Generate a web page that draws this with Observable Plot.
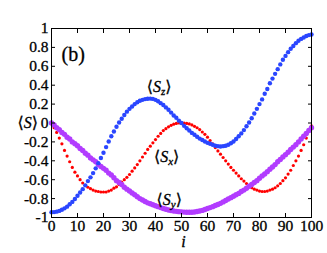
<!DOCTYPE html>
<html><head><meta charset="utf-8">
<script src="https://cdn.jsdelivr.net/npm/d3@7"></script>
<script src="https://cdn.jsdelivr.net/npm/@observablehq/plot@0.6"></script>
<style>body{margin:0;background:#fff} svg text{font-family:'Liberation Serif','DejaVu Serif',serif !important;}</style>
</head><body><div id="chart"></div>
<script>
// i = 0..100 is the array index
const Sz = [-0.945,-0.943,-0.938,-0.93,-0.918,-0.903,-0.885,-0.86,-0.835,-0.805,
-0.77,-0.735,-0.70,-0.66,-0.615,-0.575,-0.53,-0.48,-0.425,-0.37,
-0.315,-0.255,-0.195,-0.14,-0.09,-0.04,0.005,0.045,0.085,0.12,
0.15,0.175,0.20,0.22,0.235,0.245,0.253,0.257,0.258,0.255,
0.245,0.23,0.21,0.19,0.165,0.14,0.11,0.08,0.055,0.025,
0.00,-0.03,-0.055,-0.08,-0.105,-0.125,-0.145,-0.165,-0.18,-0.195,
-0.21,-0.22,-0.23,-0.24,-0.245,-0.248,-0.245,-0.24,-0.23,-0.215,
-0.195,-0.17,-0.14,-0.11,-0.075,-0.035,0.005,0.05,0.10,0.15,
0.20,0.25,0.31,0.36,0.42,0.47,0.52,0.57,0.62,0.67,
0.71,0.75,0.785,0.815,0.845,0.87,0.89,0.905,0.92,0.93,0.937];

const Sx = [0.00,-0.05,-0.10,-0.16,-0.22,-0.29,-0.35,-0.41,-0.47,-0.52,
-0.56,-0.60,-0.635,-0.66,-0.68,-0.695,-0.71,-0.72,-0.725,-0.73,
-0.73,-0.73,-0.72,-0.71,-0.69,-0.675,-0.65,-0.625,-0.60,-0.575,
-0.545,-0.51,-0.475,-0.44,-0.40,-0.36,-0.32,-0.28,-0.245,-0.21,
-0.175,-0.14,-0.11,-0.08,-0.06,-0.04,-0.025,-0.012,-0.005,0.00,
0.00,0.00,-0.005,-0.01,-0.02,-0.035,-0.05,-0.07,-0.095,-0.12,
-0.15,-0.185,-0.22,-0.26,-0.295,-0.33,-0.365,-0.40,-0.435,-0.47,
-0.50,-0.53,-0.56,-0.59,-0.615,-0.64,-0.665,-0.685,-0.70,-0.71,
-0.72,-0.725,-0.725,-0.72,-0.71,-0.70,-0.685,-0.665,-0.64,-0.61,
-0.58,-0.54,-0.50,-0.45,-0.40,-0.35,-0.29,-0.23,-0.16,-0.09,-0.03];

const Sy = [0.00,-0.02,-0.05,-0.07,-0.10,-0.12,-0.15,-0.17,-0.20,-0.22,
-0.24,-0.27,-0.29,-0.32,-0.34,-0.37,-0.39,-0.41,-0.44,-0.46,
-0.48,-0.50,-0.53,-0.55,-0.58,-0.61,-0.63,-0.65,-0.68,-0.70,
-0.72,-0.74,-0.76,-0.78,-0.80,-0.815,-0.83,-0.845,-0.855,-0.865,
-0.875,-0.885,-0.895,-0.905,-0.913,-0.92,-0.926,-0.931,-0.935,-0.938,
-0.94,-0.943,-0.945,-0.945,-0.944,-0.942,-0.937,-0.932,-0.925,-0.915,
-0.905,-0.895,-0.885,-0.873,-0.862,-0.85,-0.835,-0.82,-0.805,-0.79,
-0.775,-0.76,-0.745,-0.725,-0.71,-0.69,-0.67,-0.65,-0.63,-0.61,
-0.585,-0.56,-0.54,-0.515,-0.49,-0.465,-0.44,-0.41,-0.385,-0.36,
-0.335,-0.31,-0.28,-0.255,-0.23,-0.20,-0.17,-0.14,-0.11,-0.08,-0.05];

const xTicks = [0,10,20,30,40,50,60,70,80,90,100];
const yTicks = [-1,-0.8,-0.6,-0.4,-0.2,0,0.2,0.4,0.6,0.8,1];
const yTickLabels = ["-1","-0.8","-0.6","-0.4","-0.2","0","0.2","0.4","0.6","0.8","1"];
const seriesLabels = ["Sz","Sx","Sy"];
const labelX = [41.4, 44.3, 45.3];
const labelY = [0.385, -0.355, -0.81];
const panelLabel = "(b)";
const yAxisLabel = "S";
const xAxisLabel = "i";

const font = "'Liberation Serif', 'DejaVu Serif', serif";
const tickOpts = {fill: "none", tickSize: 4, label: null, strokeWidth: 1};

const chart = Plot.plot({
  width: 327, height: 253,
  marginLeft: 51, marginRight: 16, marginTop: 28, marginBottom: 36,
  style: {fontFamily: font, fontSize: "15px", background: "#fff", color: "#000"},
  x: {domain: [0, 100]},
  y: {domain: [-1, 1]},
  marks: [
    Plot.dot(Sx, {x: (d, i) => i, y: d => d, r: 1.6, fill: "#ff0000", stroke: "none"}),
    Plot.dot(Sy, {x: (d, i) => i, y: d => d, r: 2.7, fill: "#b23cff", stroke: "none"}),
    Plot.dot(Sz, {x: (d, i) => i, y: d => d, r: 2.2, fill: "#2a46ff", stroke: "none"}),
    Plot.frame({stroke: "#000", strokeWidth: 1}),
    // inward ticks on all four sides
    Plot.axisX(xTicks, {...tickOpts, anchor: "bottom", dy: -4}),
    Plot.axisX(xTicks, {...tickOpts, anchor: "top", dy: 4}),
    Plot.axisY(yTicks, {...tickOpts, anchor: "left", dx: 4}),
    Plot.axisY(yTicks, {...tickOpts, anchor: "right", dx: -4}),
    // tick labels
    Plot.axisX(xTicks, {anchor: "bottom", tickSize: 0, tickPadding: 2, label: null, fontSize: 15.5, tickFormat: d => String(d)}),
    Plot.axisY(yTicks, {anchor: "left", tickSize: 0, tickPadding: 3, label: null, fontSize: 15.5,
      tickFormat: d => yTickLabels[yTicks.indexOf(d)]}),
    Plot.text(seriesLabels, {x: (d, i) => labelX[i], y: (d, i) => labelY[i], text: d => d, fontSize: 16, fill: "#000"}),
    Plot.text([panelLabel], {frameAnchor: "top-left", dx: 10, dy: 18.5, text: d => d, textAnchor: "start", fontSize: 20, fill: "#000"}),
    Plot.text([yAxisLabel], {frameAnchor: "left", y: [0], dx: -34, text: d => d, fontSize: 16, fill: "#000"}),
    Plot.text([xAxisLabel], {frameAnchor: "bottom", dx: 2, dy: 29.5, text: d => d, fontSize: 16, fontStyle: "italic", fill: "#000"})
  ]
});
document.getElementById("chart").appendChild(chart);

// force serif font everywhere, slightly heavier strokes like the reference
d3.select(chart).selectAll("text")
  .attr("font-family", font).style("font-family", font)
  .attr("stroke", "#000").attr("stroke-width", 0.3);

// angle brackets, italic S and subscripts
const subs = {Sz: "z", Sx: "x", Sy: "y"};
d3.select(chart).selectAll("text").each(function() {
  const t = this.textContent;
  if (subs[t] || t === yAxisLabel) {
    const el = d3.select(this);
    el.text(null);
    el.append("tspan").text("\u27E8");
    el.append("tspan").attr("font-style", "italic").text("S");
    if (subs[t]) {
      el.append("tspan").attr("font-style", "italic").attr("font-size", "11px").attr("dy", "3").text(subs[t]);
      el.append("tspan").attr("dy", "-3").text("\u27E9");
    } else {
      el.append("tspan").text("\u27E9");
    }
  }
});
</script>
</body></html>
